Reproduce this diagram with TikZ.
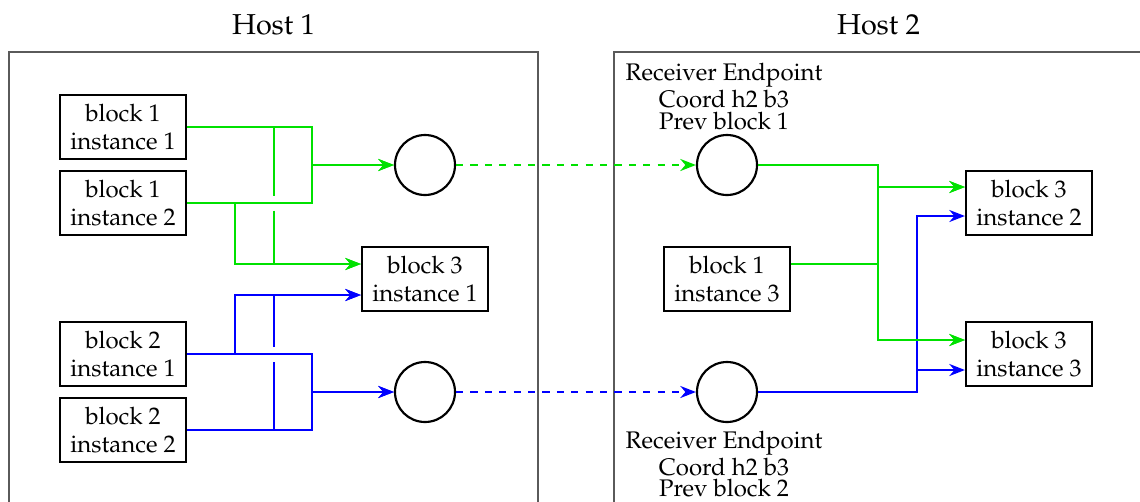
\documentclass[tikz,border=0pt]{standalone}
\usepackage[T1]{fontenc}
\usepackage{mathpazo}
\usetikzlibrary{arrows.meta,calc}

\definecolor{flowgreen}{RGB}{0,225,0}
\definecolor{flowblue}{RGB}{0,0,255}
\definecolor{framegray}{RGB}{90,90,90}

\tikzset{
  blk/.style={draw, line width=0.9pt, align=center, minimum width=52.5pt, minimum height=27pt,
              inner sep=2pt, font=\fontsize{10pt}{12pt}\selectfont},
  ep/.style={draw, line width=0.9pt, circle, minimum size=25pt, inner sep=0pt},
  rlab/.style={align=center, inner sep=0pt, font=\fontsize{10pt}{9pt}\selectfont},
  hosttitle/.style={font=\large, inner sep=0pt, anchor=base},
  hostframe/.style={draw=framegray, line width=0.45pt},
  gline/.style={draw=flowgreen, line width=0.9pt, -{Stealth[length=6.5pt,width=5pt]}},
  bline/.style={draw=flowblue, line width=0.9pt, -{Stealth[length=6.5pt,width=5pt]}},
}

\begin{document}
\begin{tikzpicture}[x=0.4167pt, y=-0.4167pt]
  \useasboundingbox (0,0) rectangle (1140,501);
  \clip (0,0) rectangle (1140,501);

  % host frames and titles
  \node[hosttitle] (t1) at (273.5,34) {Host 1};
  \node[hosttitle] (t2) at (878.5,34) {Host 2};
  \draw[hostframe] (9,52) rectangle (538,530);
  \draw[hostframe] (614,52) rectangle (1143,530);

  % host 1 blocks
  \node[blk] (b11) at (123,127) {block 1\\instance 1};
  \node[blk] (b12) at (123,203) {block 1\\instance 2};
  \node[blk] (b31) at (425,279) {block 3\\instance 1};
  \node[blk] (b21) at (123,354) {block 2\\instance 1};
  \node[blk] (b22) at (123,430) {block 2\\instance 2};
  \node[ep] (e1) at (425,165) {};
  \node[ep] (e2) at (425,392) {};

  % host 2 blocks
  \node[ep] (e3) at (727,165) {};
  \node[ep] (e4) at (727,392) {};
  \node[blk] (b13) at (727,279) {block 1\\instance 3};
  \node[blk] (b32) at (1029,203) {block 3\\instance 2};
  \node[blk] (b33) at (1029,354) {block 3\\instance 3};

  \node[rlab, anchor=south] (r1) at (724,130) {Receiver Endpoint\\Coord h2 b3\\Prev block 1};
  \node[rlab, anchor=north] (r2) at (724,431) {Receiver Endpoint\\Coord h2 b3\\Prev block 2};

  % input and output points on the boxes
  \coordinate (b31a) at ($(b31.west)+(0,-15)$);
  \coordinate (b31b) at ($(b31.west)+(0,16)$);
  \coordinate (b32a) at ($(b32.west)+(0,-16)$);
  \coordinate (b32b) at ($(b32.west)+(0,13)$);
  \coordinate (b33a) at ($(b33.west)+(0,-14)$);
  \coordinate (b33b) at ($(b33.west)+(0,16)$);
  \coordinate (b13o) at ($(b13.east)+(0,-15)$);

  % host 1, block 1 flows (green)
  \draw[gline] (b11.east) -| (274,195.5) (274,210.5) |- (b31a);
  \draw[gline] (b11.east) -| (312,165) -- (e1);
  \draw[gline] (b12.east) -| (312,165) -- (e1);
  \draw[gline] (b12.east) -- (235,203) |- (b31a);

  % host 1, block 2 flows (blue)
  \draw[bline] (b22.east) -| (274,362) (274,346.5) |- (b31b);
  \draw[bline] (b21.east) -| (312,392) -- (e2);
  \draw[bline] (b22.east) -| (312,392) -- (e2);
  \draw[bline] (b21.east) -- (235,354) |- (b31b);

  % links between hosts
  \draw[gline, dashed] (e1) -- (e3);
  \draw[bline, dashed] (e2) -- (e4);

  % host 2 flows
  \draw[bline] (e4.east) -| (917,216) -- (b32b);
  \draw[bline] (e4.east) -| (917,370) -- (b33b);
  \draw[gline] (e3.east) -| (878,187) -- (b32a);
  \draw[gline] (e3.east) -| (878,340) -- (b33a);
  \draw[gline] (b13o) -| (878,187) -- (b32a);
  \draw[gline] (b13o) -| (878,340) -- (b33a);
\end{tikzpicture}
\end{document}
